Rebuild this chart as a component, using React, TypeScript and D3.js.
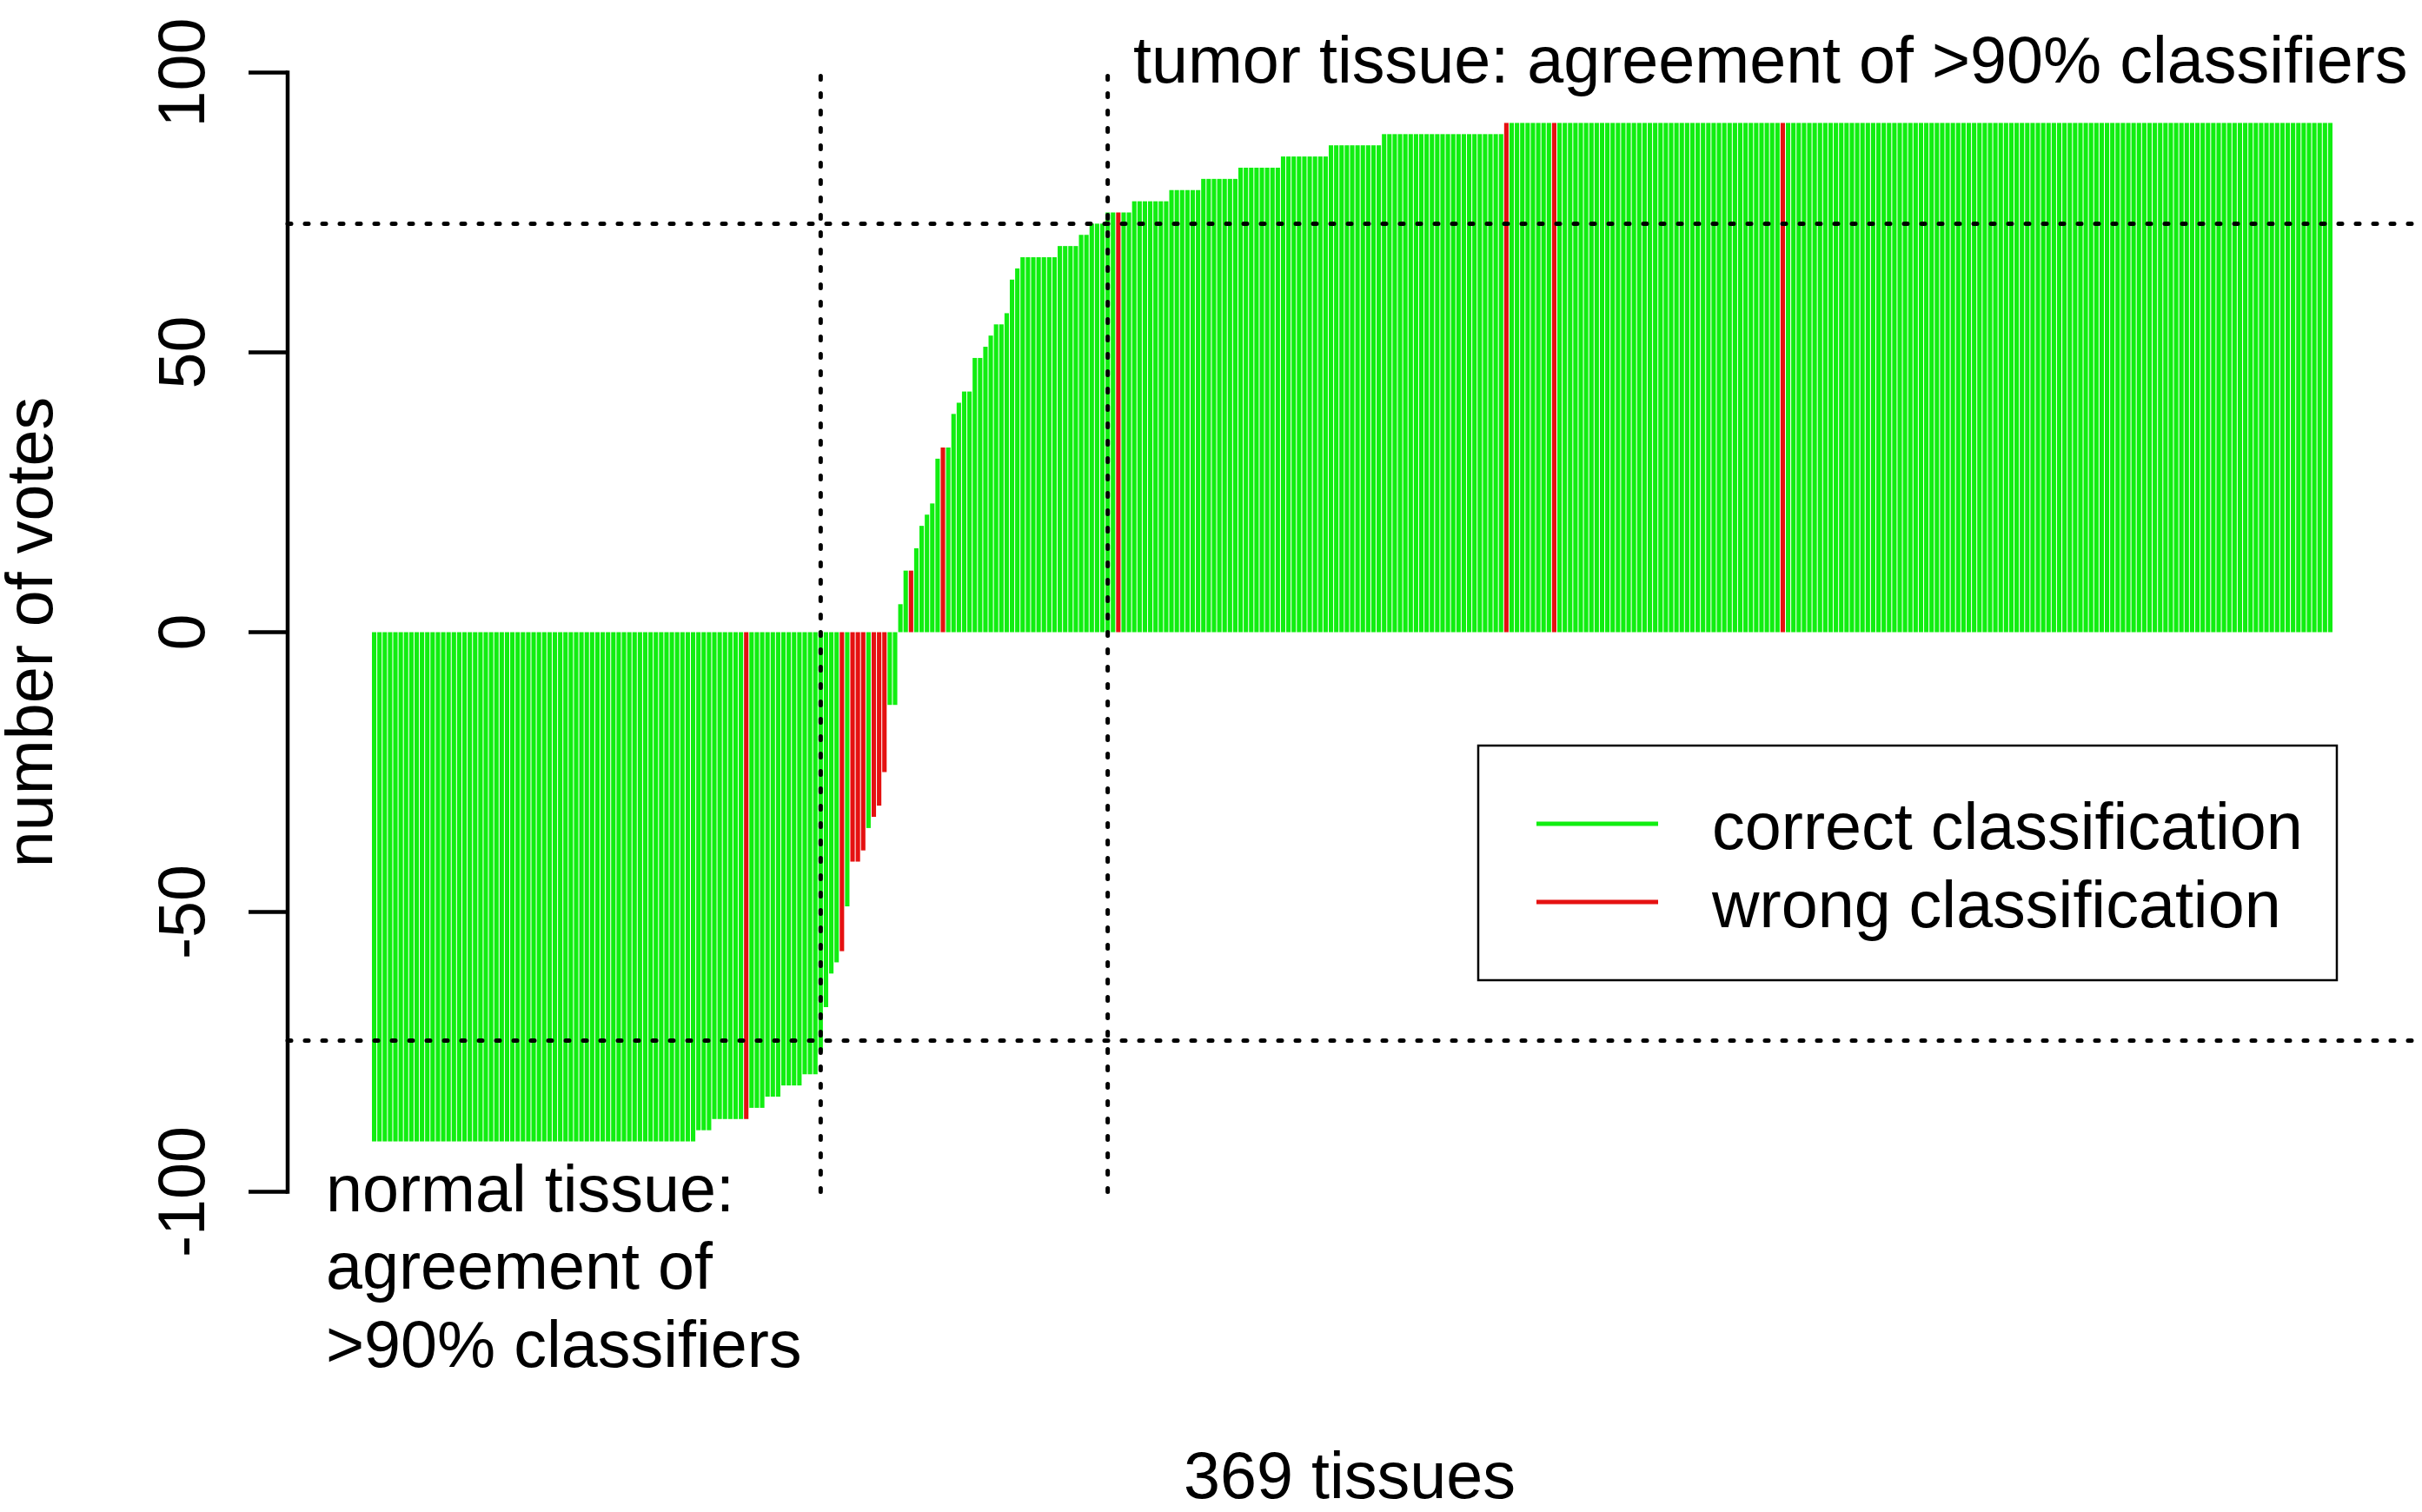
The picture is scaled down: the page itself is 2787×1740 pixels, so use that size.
import React, { useEffect } from 'react';
import * as d3 from 'd3';

// sorted vote values, stored as runs (level, how many tissues)
const voteLevels = [
  -91, -89, -87, -85, -83, -81, -79, -75, -67, -61, -59, -57, -49, -41, -39, -35, -33, -31, -25, -13,
  5, 11, 15, 19, 21, 23, 31, 33, 39, 41, 43, 49, 51, 53, 55, 57, 63, 65, 67, 69, 71, 73, 75, 77, 79,
  81, 83, 85, 87, 89, 91,
];
const voteCounts = [
  61, 3, 7, 3, 3, 4, 3, 1, 1, 1, 1, 1, 1, 2, 1, 1, 1, 1, 1, 2,
  1, 2, 1, 1, 1, 1, 1, 2, 1, 1, 2, 2, 1, 1, 2, 1, 1, 1, 7, 4, 2, 3, 5, 7, 6,
  7, 8, 9, 10, 23, 156,
];
// tissues that were misclassified
const wrongIdx = [70, 88, 90, 91, 92, 94, 95, 96, 101, 107, 140, 213, 222, 265];
const cutoffBars = [84, 138];
const threshold = 73;
const yTicks = [-100, -50, 0, 50, 100];
const legendItems = ['correct classification', 'wrong classification'];

const GREEN = '#11ee11';
const RED = '#e51111';
const FONT = '"Liberation Sans", Arial, Helvetica, sans-serif';
const FS = 75.5;

const W = 2787;
const H = 1740;

export default function App() {
  useEffect(() => {
    document.body.style.margin = '0';
  }, []);

  const votes: number[] = [];
  voteLevels.forEach((v, i) => {
    for (let k = 0; k < voteCounts[i]; k++) votes.push(v);
  });
  const wrong = new Set(wrongIdx);

  const x = d3
    .scaleBand<number>()
    .domain(d3.range(votes.length))
    .range([428, 2684])
    .paddingInner(0.2 / 1.2)
    .paddingOuter(0);
  const y = d3.scaleLinear().domain([-100, 100]).range([1371.5, 83.5]);

  const plotLeft = 331;
  const plotRight = 2783;
  const axisX = 331;
  const bw = x.bandwidth();

  const dotted = { stroke: '#000', strokeWidth: 5, strokeDasharray: '4 16', strokeLinecap: 'round' as const };

  return (
    <svg width={W} height={H} viewBox={`0 0 ${W} ${H}`} style={{ display: 'block', background: '#fff' }} fontFamily={FONT}>
      {/* bars */}
      <g>
        {votes.map((v, i) => (
          <rect
            key={i}
            x={x(i)}
            y={Math.min(y(v), y(0))}
            width={bw}
            height={Math.abs(y(v) - y(0))}
            fill={wrong.has(i) ? RED : GREEN}
          />
        ))}
      </g>

      {/* threshold lines */}
      {[threshold, -threshold].map((t) => (
        <line key={t} x1={plotLeft} x2={plotRight} y1={y(t)} y2={y(t)} {...dotted} />
      ))}
      {cutoffBars.map((b) => {
        const cx = (x(b) as number) + bw / 2;
        return <line key={b} x1={cx} x2={cx} y1={y(-100)} y2={y(100)} {...dotted} />;
      })}

      {/* y axis */}
      <g stroke="#000" strokeWidth={4.5} fill="none">
        <line x1={axisX} x2={axisX} y1={y(-100)} y2={y(100)} strokeLinecap="square" />
        {yTicks.map((t) => (
          <line key={t} x1={axisX - 45} x2={axisX} y1={y(t)} y2={y(t)} />
        ))}
      </g>
      {yTicks.map((t) => (
        <text
          key={t}
          transform={`translate(235,${y(t)}) rotate(-90)`}
          textAnchor="middle"
          fontSize={FS}
          fill="#000"
        >
          {t}
        </text>
      ))}
      <text transform={`translate(60,${y(0)}) rotate(-90)`} textAnchor="middle" fontSize={FS} fill="#000">
        number of votes
      </text>
      <text x={1553} y={1724} textAnchor="middle" fontSize={FS} fill="#000">
        369 tissues
      </text>

      {/* annotations */}
      <text x={1304} y={95} fontSize={FS} fill="#000">
        tumor tissue: agreement of &gt;90% classifiers
      </text>
      <text x={375} fontSize={FS} fill="#000">
        <tspan x={375} y={1394}>normal tissue:</tspan>
        <tspan x={375} y={1483}>agreement of</tspan>
        <tspan x={375} y={1573}>&gt;90% classifiers</tspan>
      </text>

      {/* legend */}
      <rect x={1701} y={858} width={988} height={270} fill="#fff" stroke="#000" strokeWidth={2.5} />
      {legendItems.map((label, i) => (
        <g key={label}>
          <line x1={1768} x2={1908} y1={948 + i * 90} y2={948 + i * 90} stroke={i === 0 ? GREEN : RED} strokeWidth={5} />
          <text x={1970} y={977 + i * 90} fontSize={FS} fill="#000">
            {label}
          </text>
        </g>
      ))}
    </svg>
  );
}
